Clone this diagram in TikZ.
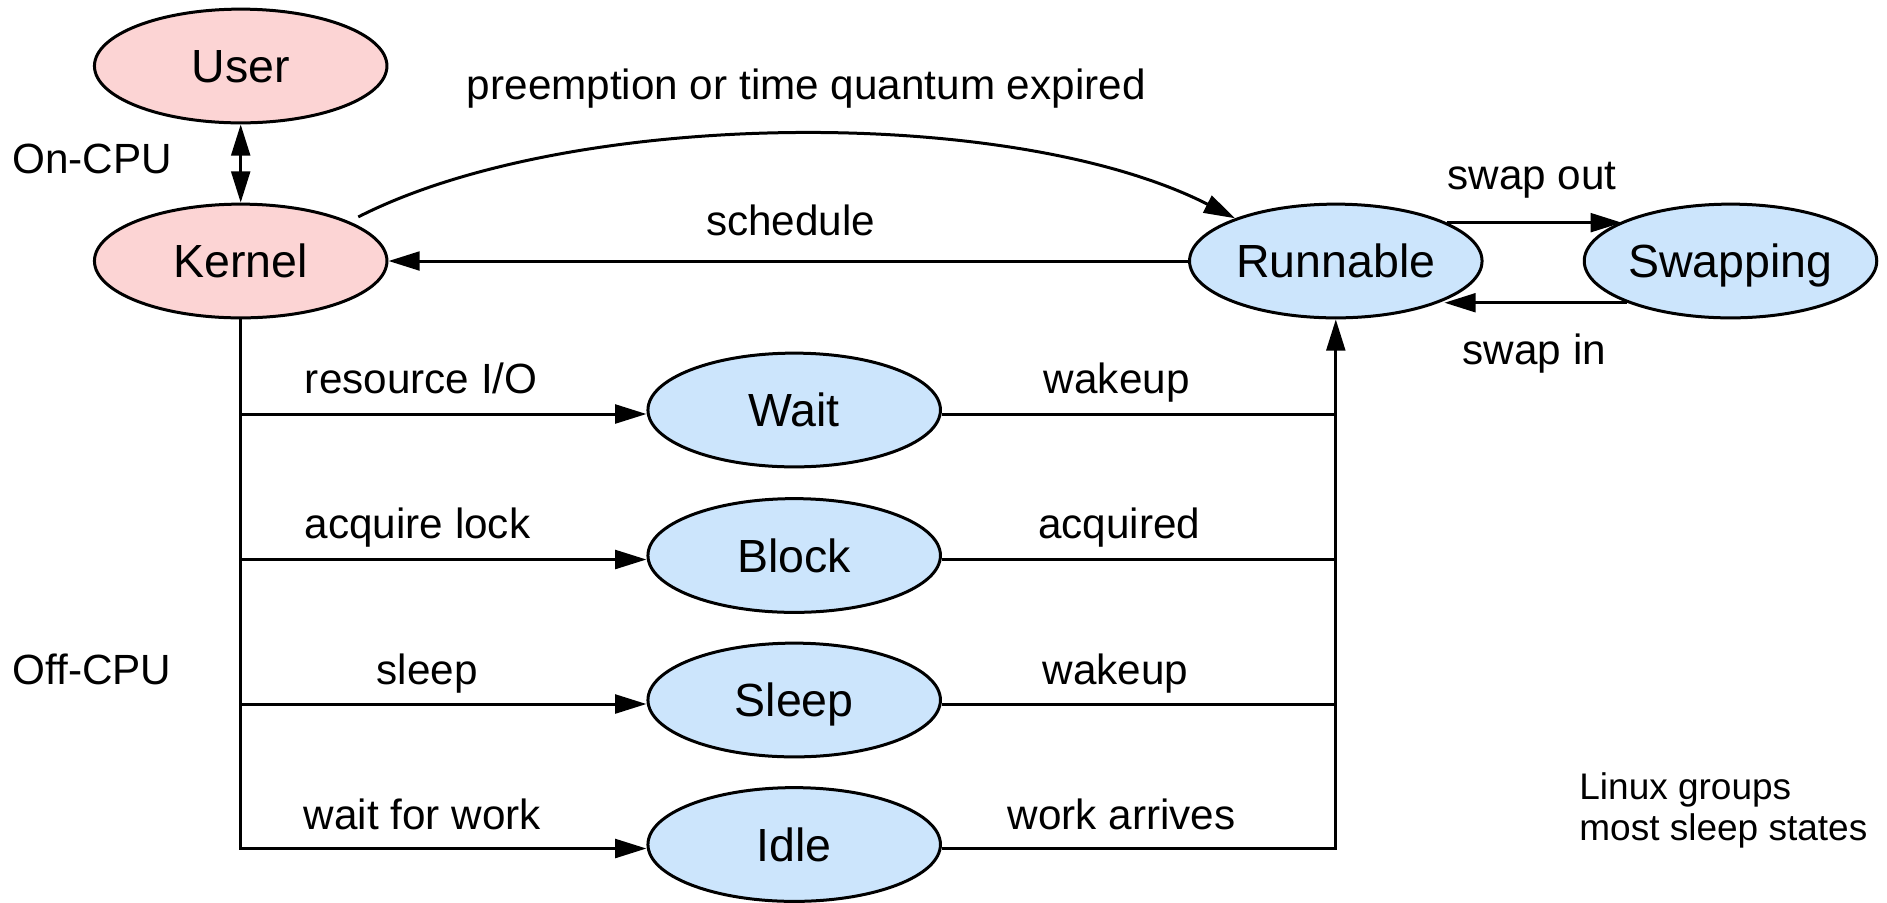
\documentclass[tikz,border=0pt]{standalone}
\usepackage{fontspec}
\setmainfont{Liberation Sans}
\usepackage{tikz}
\usetikzlibrary{shapes,arrows.meta,positioning}
\definecolor{oncpufill}{RGB}{252,212,212}
\definecolor{offcpufill}{RGB}{204,229,252}
\tikzset{state/.style={ellipse,draw=black,line width=1.2pt,inner sep=0pt,
minimum width=117pt, minimum height=45.5pt, font=\fontsize{18.6}{18.6}\selectfont,
text height=13.3pt, text depth=0pt},
oncpu/.style={state,fill=oncpufill},
offcpu/.style={state,fill=offcpufill},
lbl/.style={inner sep=0pt, font=\fontsize{16.9}{16.9}\selectfont, text height=12.1pt, text depth=0pt},
note/.style={inner sep=0pt, font=\fontsize{14.8}{16.4}\selectfont, align=left},
link/.style={line width=1.2pt},
>={Triangle[length=12.5pt,width=7.5pt]}}

\begin{document}
\begin{tikzpicture}[x=0.4pt,y=0.4pt]
  \useasboundingbox (0,0) rectangle (1887,-902);

  \node (user) [oncpu] at (240.7,-66) {User};
  \node (kernel) [oncpu] at (240.7,-261) {Kernel};
  \node (runnable) [offcpu] at (1335.8,-261) {Runnable};
  \node (swapping) [offcpu] at (1730.5,-261) {Swapping};
  \node (wait) [offcpu] at (794.2,-410) {Wait};
  \node (block) [offcpu] at (794.2,-555.5) {Block};
  \node (sleep) [offcpu] at (794.2,-700) {Sleep};
  \node (idle) [offcpu] at (794.2,-844.5) {Idle};

  \node (oncpulbl) [lbl,anchor=west] at (12,-158.8) {On-CPU};
  \node (offcpulbl) [lbl,anchor=west] at (12,-669) {Off-CPU};
  \node (preemptlbl) [lbl] at (806.3,-84.2) {preemption or time quantum expired};
  \node (schedlbl) [lbl] at (790.6,-220.2) {schedule};
  \node (swapoutlbl) [lbl] at (1532,-174.5) {swap out};
  \node (swapinlbl) [lbl] at (1534.3,-349) {swap in};
  \node (waitin) [lbl] at (421.2,-377.9) {resource I/O};
  \node (waitout) [lbl] at (1116.8,-377.9) {wakeup};
  \node (blockin) [lbl] at (417.6,-523.5) {acquire lock};
  \node (blockout) [lbl] at (1119.2,-523.5) {acquired};
  \node (sleepin) [lbl] at (427.2,-669) {sleep};
  \node (sleepout) [lbl] at (1115.5,-669) {wakeup};
  \node (idlein) [lbl] at (422.4,-814.7) {wait for work};
  \node (idleout) [lbl] at (1121.6,-814.7) {work arrives};
  \node (linuxnote) [note,anchor=north west] at (1578.9,-772.6) {Linux groups\\most sleep states};

  \draw [link,<->] (user) -- (kernel);
  \draw [link,->] (runnable) -- (kernel);
  \draw [link,->,shorten <=4pt] (kernel.20) to [out=27,in=153,looseness=0.72] (runnable.157);
  \draw [link,->] (runnable.19) -- (runnable.19 -| swapping.160);
  \draw [link,->] (swapping.-158) -- (swapping.-158 -| runnable.-20);

  \foreach \s in {wait,block,sleep,idle} {
    \coordinate (\s l) at ([yshift=-1.6pt]\s.west);
    \coordinate (\s r) at ([yshift=-1.6pt]\s.east);
  }

  \draw [link,->] (kernel.south) |- (idlel);
  \draw [link,->] (idler) -| (runnable.south);
  \foreach \s in {wait,block,sleep} {
    \draw [link,->] (kernel.south |- \s l) -- (\s l);
    \draw [link] (\s r) -- (\s r -| runnable.south);
  }
\end{tikzpicture}
\end{document}
